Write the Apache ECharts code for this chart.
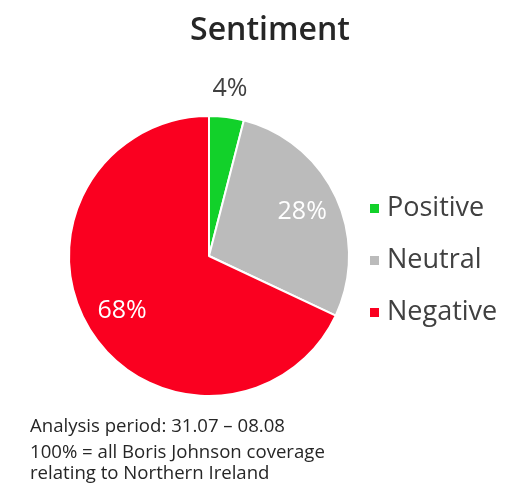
<!DOCTYPE html>
<html><head><meta charset="utf-8">
<script src="https://cdn.jsdelivr.net/npm/echarts@6/dist/echarts.min.js"></script>
<style>html,body{margin:0;padding:0;background:#fff}#c{width:517px;height:494px}</style>
</head><body><div id="c"></div>
<script>
const categories = ['Positive', 'Neutral', 'Negative'];
const values = [4, 28, 68];
const colors = ['#12d12a', '#bbbbbb', '#fa0020'];
const labelColors = ['#404040', '#ffffff', '#ffffff'];
const titleText = 'Sentiment';
const noteLines = ['Analysis period: 31.07 \u2013 08.08', '100% = all Boris Johnson coverage\nrelating to Northern Ireland'];

const FONT = '"Open Sans", sans-serif';
const center = [209, 256];
const chart = echarts.init(document.getElementById('c'));

const mainData = categories.map((n, i) => ({ name: n, value: values[i], itemStyle: { color: colors[i] } }));
const labelData = categories.map((n, i) => ({
  name: n, value: values[i],
  itemStyle: { color: 'rgba(0,0,0,0)' },
  label: { show: i > 0, color: labelColors[i] }
}));
const outerLabelData = categories.map((n, i) => ({
  name: n, value: values[i],
  itemStyle: { color: 'rgba(0,0,0,0)' },
  label: { show: i === 0, color: labelColors[i] }
}));

chart.setOption({
  animation: false,
  title: [
    { text: titleText, left: 265, top: 10, textAlign: 'center',
      textStyle: { fontFamily: FONT, fontWeight: 600, fontSize: 32, color: '#262626' } },
    { text: noteLines[0], left: 25, top: 412,
      textStyle: { fontFamily: FONT, fontWeight: 'normal', fontSize: 18.6, color: '#262626' } },
    { text: noteLines[1], left: 25, top: 437,
      textStyle: { fontFamily: FONT, fontWeight: 'normal', fontSize: 18.6, lineHeight: 21, color: '#262626' } }
  ],
  legend: {
    orient: 'vertical', left: 363, top: 190,
    itemWidth: 11, itemHeight: 11, itemGap: 25, icon: 'rect',
    data: categories,
    textStyle: { fontFamily: FONT, fontSize: 27, color: '#404040', padding: [0, 0, 0, 2] },
    selectedMode: false
  },
  series: [
    { type: 'pie', radius: [0, 140], center: center, startAngle: 90, clockwise: true,
      data: mainData, label: { show: false }, labelLine: { show: false },
      itemStyle: { borderColor: '#fff', borderWidth: 2 }, silent: true },
    { type: 'pie', radius: [0, 200], center: center, startAngle: 90, clockwise: true,
      data: labelData, silent: true, labelLine: { show: false },
      label: { position: 'inside', formatter: '{c}%', fontFamily: FONT, fontSize: 25 } },
    { type: 'pie', radius: [0, 330], center: center, startAngle: 90, clockwise: true,
      data: outerLabelData, silent: true, labelLine: { show: false },
      label: { position: 'inside', formatter: '{c}%', fontFamily: FONT, fontSize: 25 } }
  ]
});
</script></body></html>
